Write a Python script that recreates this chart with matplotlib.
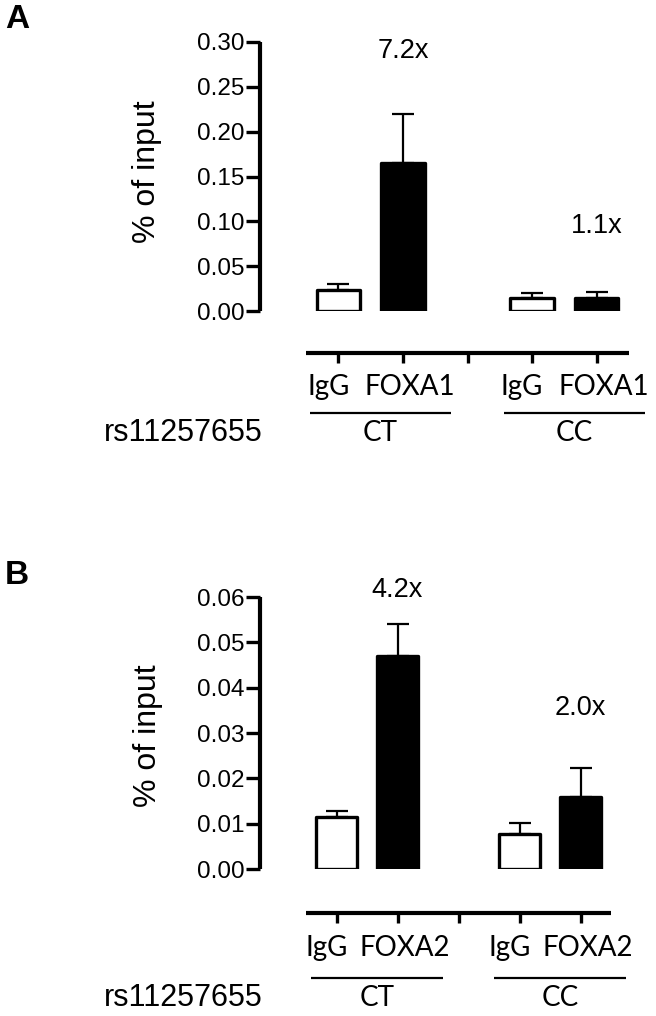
import matplotlib
matplotlib.use("Agg")
import matplotlib.pyplot as plt
import matplotlib.transforms as mtrans

# ---------------- data ----------------
genotypes = ["CT", "CC"]
snp_label = "rs11257655"
ylabel = "% of input"

a_antibodies = ["IgG", "FOXA1"]
a_means = [0.023, 0.165, 0.015, 0.015]
a_errs = [0.007, 0.055, 0.005, 0.006]
a_folds = ["7.2x", "1.1x"]
a_yticks = [0.00, 0.05, 0.10, 0.15, 0.20, 0.25, 0.30]
a_ticklabels = ["0.00", "0.05", "0.10", "0.15", "0.20", "0.25", "0.30"]

b_antibodies = ["IgG", "FOXA2"]
b_means = [0.0115, 0.047, 0.0078, 0.0158]
b_errs = [0.0013, 0.007, 0.0024, 0.0065]
b_folds = ["4.2x", "2.0x"]
b_yticks = [0.00, 0.01, 0.02, 0.03, 0.04, 0.05, 0.06]
b_ticklabels = ["0.00", "0.01", "0.02", "0.03", "0.04", "0.05", "0.06"]

# ---------------- layout ----------------
W, H, DPI = 656, 1016, 100
fig = plt.figure(figsize=(W / DPI, H / DPI), dpi=DPI)
fig.patch.set_facecolor("white")

ARIAL = ["Liberation Sans", "DejaVu Sans"]
CAL = ["Lato", "DejaVu Sans"]

bar_pos = [0, 1, 3, 4]
tick_pos = [0, 1, 2, 3, 4]
fills = ["white", "black", "white", "black"]


def panel(letter, left_px, right_px, top_px, bottom_px, ymax, yticks, yticklabels,
          means, errs, antibodies, folds, fold_y, xout_px, lab_dy, line_dy, grp_dy,
          ylab_x, ylab_y):
    ax = fig.add_axes([left_px / W, 1 - bottom_px / H,
                       (right_px - left_px) / W, (bottom_px - top_px) / H])
    ax.set_xlim(-0.5, 4.5)
    ax.set_ylim(0, ymax)
    for s in ["top", "right"]:
        ax.spines[s].set_visible(False)
    ax.spines["left"].set_position(("outward", 46 * 72 / DPI))
    ax.spines["left"].set_bounds(0, ymax)
    ax.spines["bottom"].set_position(("outward", xout_px * 72 / DPI))
    for s in ["left", "bottom"]:
        ax.spines[s].set_linewidth(3.0)
        ax.spines[s].set_capstyle("butt")
    ax.set_yticks(yticks)
    ax.set_yticklabels(yticklabels, fontfamily=ARIAL, fontsize=17.5)
    ax.tick_params(axis="y", length=10, width=2.4, pad=1, direction="out")
    ax.set_xticks(tick_pos)
    ax.set_xticklabels([""] * len(tick_pos))
    ax.tick_params(axis="x", length=7, width=2.4, direction="out")
    ax.patch.set_alpha(0)

    ax.bar(bar_pos, means, width=0.67, color=fills, edgecolor="black",
           linewidth=2.4, joinstyle="round", zorder=3)
    ax.errorbar(bar_pos, means, yerr=[[0] * len(means), errs], fmt="none",
                ecolor="black", elinewidth=1.6, capsize=8, capthick=1.6, zorder=2)

    for gx, fold, fy in zip([1, 4], folds, fold_y):
        ax.text(gx, fy, fold, ha="center", va="center", fontsize=19.5,
                fontfamily=ARIAL, clip_on=False)

    blend = mtrans.blended_transform_factory(ax.transData, ax.transAxes)

    def off(dx, dy):
        return blend + mtrans.ScaledTranslation(dx / DPI, -dy / DPI, fig.dpi_scale_trans)

    for gi, g in enumerate(genotypes):
        p0, p1 = bar_pos[2 * gi], bar_pos[2 * gi + 1]
        ax.text(p0, 0, antibodies[0], transform=off(-10, lab_dy), ha="center",
                va="center", fontsize=20, fontfamily=CAL)
        ax.text(p1, 0, antibodies[1], transform=off(7, lab_dy), ha="center",
                va="center", fontsize=20, fontfamily=CAL)
        mid = (p0 + p1) / 2
        ax.plot([mid - 1.09, mid + 1.09], [0, 0], color="black", lw=1.6,
                transform=off(10, line_dy), clip_on=False, solid_capstyle="butt")
        ax.text(mid, 0, g, transform=off(10, grp_dy), ha="center", va="center",
                fontsize=20, fontfamily=CAL)

    ax.set_ylabel(ylabel, fontsize=23, fontfamily=ARIAL)
    ax.yaxis.set_label_coords(ylab_x, ylab_y)

    fig.text(263 / W, 1 - (bottom_px + grp_dy) / H, snp_label, ha="right",
             va="center", fontsize=22, fontfamily=ARIAL)
    fig.text(5 / W, 1 - (top_px - 22) / H, letter, ha="left", va="center",
             fontsize=24, fontweight="bold", fontfamily=ARIAL)
    return ax


panel("A", 306, 629, 42, 311, 0.30, a_yticks, a_ticklabels, a_means, a_errs,
      a_antibodies, a_folds, [0.290, 0.095], 42, 76, 102, 122, -0.446, 0.517)
panel("B", 306, 611, 597, 869, 0.06, b_yticks, b_ticklabels, b_means, b_errs,
      b_antibodies, b_folds, [0.0616, 0.0355], 44, 79, 109, 129, -0.469, 0.49)

fig.savefig("out.png", dpi=DPI, facecolor="white")
